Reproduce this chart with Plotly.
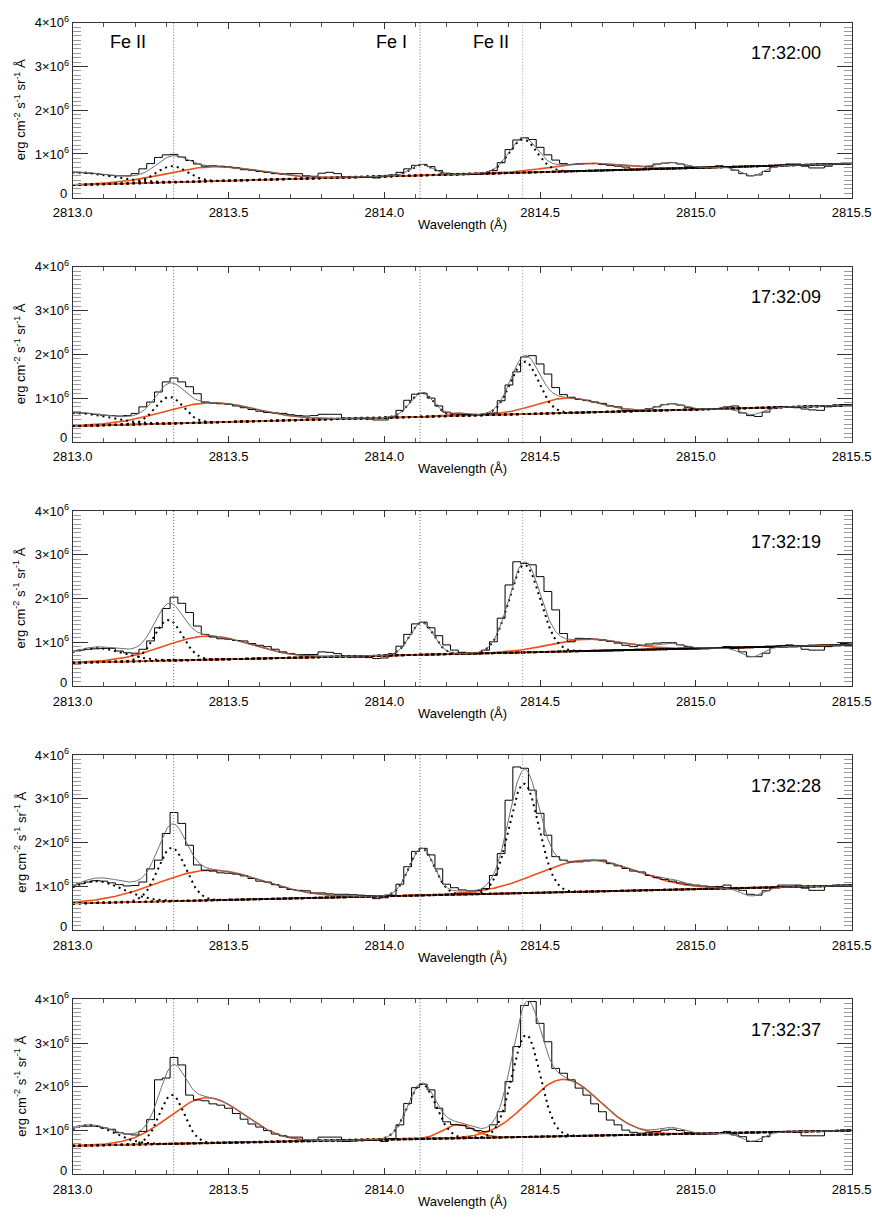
import numpy as np
import plotly.graph_objects as go

# ---------------- data (intensities in units of 1e6 erg cm^-2 s^-1 sr^-1 A^-1) ----------------
SCALE = 1e6
WL_START = 2813.0
WL_STEP = 0.025
TIMES = ["17:32:00", "17:32:09", "17:32:19", "17:32:28", "17:32:37"]

OBS_1 = [0.59, 0.57, 0.56, 0.55, 0.53, 0.51, 0.50, 0.50, 0.55, 0.66,
         0.78, 0.92, 0.98, 0.99, 0.93, 0.85, 0.77, 0.72, 0.73, 0.72,
         0.70, 0.68, 0.64, 0.63, 0.60, 0.58, 0.55, 0.54, 0.55, 0.55,
         0.50, 0.49, 0.56, 0.58, 0.55, 0.47, 0.46, 0.46, 0.47, 0.45,
         0.49, 0.52, 0.58, 0.66, 0.74, 0.76, 0.71, 0.62, 0.56, 0.53,
         0.53, 0.53, 0.54, 0.56, 0.62, 0.80, 1.10, 1.32, 1.37, 1.33,
         1.15, 0.98, 0.86, 0.78, 0.76, 0.77, 0.78, 0.78, 0.76, 0.74,
         0.72, 0.70, 0.64, 0.64, 0.72, 0.77, 0.79, 0.80, 0.77, 0.72,
         0.70, 0.70, 0.71, 0.73, 0.70, 0.63, 0.55, 0.50, 0.52, 0.60,
         0.70, 0.74, 0.77, 0.77, 0.72, 0.68, 0.68, 0.72, 0.77, 0.78, 0.79]
OBS_2 = [0.67, 0.66, 0.65, 0.63, 0.61, 0.60, 0.59, 0.60, 0.65, 0.80,
         0.91, 1.14, 1.37, 1.46, 1.37, 1.26, 1.10, 0.91, 0.89, 0.87,
         0.86, 0.82, 0.78, 0.74, 0.70, 0.67, 0.66, 0.65, 0.62, 0.60,
         0.59, 0.60, 0.63, 0.63, 0.63, 0.54, 0.53, 0.53, 0.52, 0.50,
         0.50, 0.57, 0.72, 0.95, 1.09, 1.11, 1.00, 0.82, 0.68, 0.64,
         0.63, 0.62, 0.62, 0.63, 0.66, 0.94, 1.30, 1.60, 1.94, 1.97,
         1.78, 1.55, 1.24, 1.08, 1.02, 0.97, 0.95, 0.91, 0.88, 0.82,
         0.80, 0.72, 0.71, 0.71, 0.76, 0.80, 0.85, 0.87, 0.84, 0.79,
         0.76, 0.75, 0.75, 0.76, 0.80, 0.82, 0.66, 0.60, 0.58, 0.68,
         0.76, 0.80, 0.79, 0.78, 0.75, 0.73, 0.72, 0.80, 0.84, 0.85, 0.85]
OBS_3 = [0.80, 0.82, 0.84, 0.85, 0.86, 0.86, 0.80, 0.76, 0.75, 0.84,
         1.03, 1.33, 1.77, 2.03, 1.89, 1.68, 1.37, 1.18, 1.12, 1.08,
         1.07, 1.04, 1.03, 0.97, 0.93, 0.90, 0.84, 0.78, 0.74, 0.72,
         0.72, 0.72, 0.78, 0.77, 0.74, 0.68, 0.66, 0.66, 0.65, 0.63,
         0.64, 0.74, 0.91, 1.18, 1.42, 1.46, 1.33, 1.15, 0.94, 0.82,
         0.77, 0.74, 0.74, 0.82, 1.01, 1.55, 2.31, 2.84, 2.80, 2.77,
         2.50, 2.16, 1.74, 1.20, 1.01, 1.09, 1.08, 1.07, 1.05, 1.02,
         0.98, 0.93, 0.90, 0.93, 0.96, 0.98, 0.99, 0.99, 0.94, 0.90,
         0.88, 0.86, 0.86, 0.87, 0.90, 0.86, 0.78, 0.67, 0.67, 0.75,
         0.88, 0.92, 0.94, 0.90, 0.84, 0.82, 0.82, 0.90, 0.94, 0.97, 0.98]
OBS_4 = [1.03, 1.06, 1.10, 1.13, 1.12, 1.08, 1.04, 1.01, 1.02, 1.10,
         1.40, 1.60, 2.21, 2.69, 2.44, 1.94, 1.49, 1.37, 1.35, 1.31,
         1.30, 1.28, 1.24, 1.18, 1.12, 1.10, 1.04, 0.98, 0.93, 0.91,
         0.90, 0.85, 0.85, 0.83, 0.82, 0.82, 0.81, 0.80, 0.79, 0.72,
         0.74, 0.80, 1.05, 1.45, 1.80, 1.87, 1.72, 1.40, 1.05, 0.97,
         0.92, 0.90, 0.91, 0.95, 1.25, 1.75, 2.97, 3.73, 3.70, 3.20,
         2.67, 2.17, 1.68, 1.60, 1.56, 1.56, 1.58, 1.60, 1.60, 1.52,
         1.47, 1.41, 1.35, 1.33, 1.25, 1.20, 1.16, 1.12, 1.08, 1.05,
         1.03, 1.01, 0.99, 1.00, 1.03, 0.95, 0.91, 0.82, 0.80, 0.90,
         0.98, 1.03, 1.03, 1.03, 0.96, 0.91, 0.91, 1.00, 1.03, 1.03, 1.03]
OBS_5 = [1.09, 1.10, 1.10, 1.10, 1.06, 1.03, 0.95, 0.92, 0.90, 0.98,
         1.25, 2.16, 2.20, 2.67, 2.50, 1.81, 1.70, 1.68, 1.61, 1.58,
         1.51, 1.39, 1.26, 1.15, 1.08, 1.00, 0.92, 0.88, 0.85, 0.85,
         0.78, 0.78, 0.85, 0.85, 0.85, 0.75, 0.76, 0.77, 0.78, 0.78,
         0.75, 0.82, 1.13, 1.62, 1.98, 2.06, 1.93, 1.51, 1.20, 1.14,
         1.12, 1.05, 1.00, 0.98, 1.13, 1.43, 2.12, 2.92, 3.86, 3.95,
         3.45, 3.03, 2.42, 2.31, 2.16, 1.97, 1.81, 1.61, 1.43, 1.24,
         1.13, 1.01, 0.96, 0.94, 0.96, 0.98, 1.01, 1.03, 1.00, 0.95,
         0.94, 0.92, 0.92, 0.93, 0.98, 0.90, 0.86, 0.75, 0.75, 0.86,
         0.98, 0.98, 0.98, 0.96, 0.88, 0.88, 0.88, 0.98, 1.00, 1.01, 1.01]
OBSERVED = [OBS_1, OBS_2, OBS_3, OBS_4, OBS_5]

# linear background: value at 2813.0 and slope per Angstrom
BG_AT_2813 = [0.29, 0.36, 0.53, 0.61, 0.65]
BG_SLOPE = [0.196, 0.19, 0.164, 0.164, 0.14]

# narrow (dotted) Gaussian components: centre, amplitude, sigma for each frame
LEFT_CEN = [2813.00, 2813.00, 2813.07, 2813.07, 2813.05]
LEFT_AMP = [0.29, 0.30, 0.33, 0.50, 0.47]
LEFT_SIG = [0.12, 0.11, 0.09, 0.09, 0.08]
FE2A_CEN = [2813.318, 2813.31, 2813.307, 2813.318, 2813.318]
FE2A_AMP = [0.37, 0.61, 0.93, 1.22, 1.12]
FE2A_SIG = [0.05, 0.045, 0.045, 0.045, 0.04]
FE1_CEN = [2814.12, 2814.12, 2814.12, 2814.12, 2814.12]
FE1_AMP = [0.25, 0.55, 0.74, 1.08, 1.26]
FE1_SIG = [0.035, 0.038, 0.038, 0.04, 0.045]
FE2B_CEN = [2814.445, 2814.45, 2814.45, 2814.448, 2814.455]
FE2B_AMP = [0.76, 1.20, 2.00, 2.50, 2.33]
FE2B_SIG = [0.045, 0.045, 0.05, 0.048, 0.045]

# broad (orange) Gaussian components
BROADA_CEN = [2813.45, 2813.44, 2813.43, 2813.44, 2813.43]
BROADA_AMP = [0.33, 0.45, 0.54, 0.69, 1.04]
BROADA_SIG = [0.15, 0.15, 0.14, 0.17, 0.12]
BROADB_CEN = [2814.65, 2814.585, 2814.65, 2814.65, 2814.575]
BROADB_AMP = [0.17, 0.34, 0.27, 0.72, 1.30]
BROADB_SIG = [0.12, 0.10, 0.12, 0.16, 0.115]
BROADC_CEN = [2814.24, 2814.24, 2814.24, 2814.24, 2814.238]
BROADC_AMP = [0.0, 0.06, 0.0, 0.04, 0.31]
BROADC_SIG = [0.03, 0.03, 0.03, 0.03, 0.05]

# extra weak features included only in the total fit
BUMP_CEN = [2814.92, 2814.92, 2814.92, 2814.92, 2814.92]
BUMP_AMP = [0.13, 0.15, 0.11, 0.08, 0.14]
BUMP_SIG = [0.04, 0.04, 0.04, 0.04, 0.04]
DIP_CEN = [2815.18, 2815.18, 2815.18, 2815.18, 2815.18]
DIP_AMP = [-0.22, -0.15, -0.22, -0.19, -0.20]
DIP_SIG = [0.035, 0.035, 0.035, 0.035, 0.035]

REF_LINES = [2813.324, 2814.115, 2814.444]
REF_LABELS = ["Fe II", "Fe I", "Fe II"]
REF_LABEL_X = [2813.177, 2814.024, 2814.341]
REF_LABEL_Y = 3.57
TIME_X = 2815.29
TIME_Y = 3.3

Y_TICKS = [0, 1, 2, 3, 4]
Y_TICKTEXT = ["", "1×10<sup>6</sup>", "2×10<sup>6</sup>", "3×10<sup>6</sup>", "4×10<sup>6</sup>"]
ZERO_LABEL = "0"
X_RANGE = [2813.0, 2815.5]

# ---------------- figure ----------------
W, H = 872, 1221
X0, X1 = 72.7, 851.7
TOP0, PITCH, PH = 22.7, 244.15, 175.0
FONT = "Liberation Sans, Arial, Helvetica, sans-serif"
ORANGE = "#EE5118"
DOT = "2px,4px"


def gauss(x, a, c, s):
    return a * np.exp(-0.5 * ((x - c) / s) ** 2)


xf = np.linspace(X_RANGE[0], X_RANGE[1], 801)
fig = go.Figure()
annotations = []
shapes = []

for k in range(5):
    xa = "x" if k == 0 else f"x{k+1}"
    ya = "y" if k == 0 else f"y{k+1}"
    bg = BG_AT_2813[k] + BG_SLOPE[k] * (xf - WL_START)
    left = gauss(xf, LEFT_AMP[k], LEFT_CEN[k], LEFT_SIG[k])
    fe2a = gauss(xf, FE2A_AMP[k], FE2A_CEN[k], FE2A_SIG[k])
    fe1 = gauss(xf, FE1_AMP[k], FE1_CEN[k], FE1_SIG[k])
    fe2b = gauss(xf, FE2B_AMP[k], FE2B_CEN[k], FE2B_SIG[k])
    ba = gauss(xf, BROADA_AMP[k], BROADA_CEN[k], BROADA_SIG[k])
    bb = gauss(xf, BROADB_AMP[k], BROADB_CEN[k], BROADB_SIG[k])
    bc = gauss(xf, BROADC_AMP[k], BROADC_CEN[k], BROADC_SIG[k])
    bump = gauss(xf, BUMP_AMP[k], BUMP_CEN[k], BUMP_SIG[k])
    dip = gauss(xf, DIP_AMP[k], DIP_CEN[k], DIP_SIG[k])
    total = bg + left + fe2a + fe1 + fe2b + ba + bb + bc + bump + dip

    # orange broad components (on background)
    for comp in (ba, bb, bc):
        fig.add_trace(go.Scatter(x=xf, y=(bg + comp) * SCALE, mode="lines",
                                 line=dict(color=ORANGE, width=1.6),
                                 xaxis=xa, yaxis=ya, showlegend=False, hoverinfo="skip"))
    # dotted narrow components and background
    for comp in (np.zeros_like(xf), left, fe2a, fe1, fe2b):
        fig.add_trace(go.Scatter(x=xf, y=(bg + comp) * SCALE, mode="lines",
                                 line=dict(color="black", width=2, dash=DOT),
                                 xaxis=xa, yaxis=ya, showlegend=False, hoverinfo="skip"))
    # observed spectrum (histogram style)
    obs = np.array(OBSERVED[k])
    wl = WL_START + WL_STEP * np.arange(len(obs))
    fig.add_trace(go.Scatter(x=wl, y=obs * SCALE, mode="lines", line_shape="hvh",
                             line=dict(color="black", width=1),
                             xaxis=xa, yaxis=ya, showlegend=False))
    # total fit
    fig.add_trace(go.Scatter(x=xf, y=total * SCALE, mode="lines",
                             line=dict(color="#707070", width=1),
                             xaxis=xa, yaxis=ya, showlegend=False, hoverinfo="skip"))

    top = TOP0 + PITCH * k
    ydom = [1 - (top + PH) / H, 1 - top / H]
    xdom = [X0 / W, X1 / W]
    axis_common = dict(showline=True, linecolor="#333333", linewidth=1, mirror="allticks",
                       showgrid=False, zeroline=False, ticks="inside", automargin=False,
                       tickfont=dict(family=FONT, size=13, color="black"))
    fig.update_layout({
        ("xaxis" if k == 0 else f"xaxis{k+1}"): dict(
            domain=xdom, anchor=ya, range=X_RANGE, tick0=2813.0, dtick=0.5,
            tickformat=".1f", ticklen=6, tickcolor="#333333", ticklabelstandoff=3,
            minor=dict(dtick=0.1, ticklen=4, ticks="inside", tickcolor="#555555"),
            **axis_common),
        ("yaxis" if k == 0 else f"yaxis{k+1}"): dict(
            domain=ydom, anchor=xa, range=[0, 4 * SCALE],
            tickvals=[v * SCALE for v in Y_TICKS], ticktext=Y_TICKTEXT,
            ticklen=15, tickcolor="#333333",
            minor=dict(dtick=0.1 * SCALE, ticklen=8, ticks="inside", tickcolor="#9a9a9a"),
            **axis_common),
    })

    # "0" label slightly raised, as in the original
    annotations.append(dict(x=(X0 - 4) / W, y=0, xref="paper", yref=ya, text=ZERO_LABEL,
                            xanchor="right", yanchor="middle", yshift=4, showarrow=False,
                            font=dict(family=FONT, size=13, color="black")))
    # reference line positions
    for j, lw in enumerate(REF_LINES):
        shapes.append(dict(type="line", xref=xa, yref=f"{ya} domain", x0=lw, x1=lw, y0=0, y1=1,
                           line=dict(color="#666666" if j < 2 else "#999999", width=1, dash="1px,2px")))
    # time stamp
    annotations.append(dict(x=TIME_X, y=TIME_Y * SCALE, xref=xa, yref=ya, text=TIMES[k],
                            showarrow=False, font=dict(family=FONT, size=18, color="black")))
    # axis titles
    annotations.append(dict(x=20 / W, y=1 - (top + PH / 2) / H, xref="paper", yref="paper",
                            text="erg cm<sup>-2</sup> s<sup>-1</sup> sr<sup>-1</sup> Å",
                            textangle=-90, showarrow=False, xanchor="center", yanchor="middle",
                            font=dict(family=FONT, size=13, color="black")))
    annotations.append(dict(x=(X0 + X1) / 2 / W, y=1 - (top + PH + 27) / H, xref="paper", yref="paper",
                            text="Wavelength (Å)", showarrow=False, xanchor="center", yanchor="middle",
                            font=dict(family=FONT, size=13, color="black")))
    if k == 0:
        for lx, lt in zip(REF_LABEL_X, REF_LABELS):
            annotations.append(dict(x=lx, y=REF_LABEL_Y * SCALE, xref=xa, yref=ya, text=lt,
                                    showarrow=False, font=dict(family=FONT, size=18, color="black")))

fig.update_layout(width=W, height=H, margin=dict(l=0, r=0, t=0, b=0),
                  paper_bgcolor="white", plot_bgcolor="white",
                  annotations=annotations, shapes=shapes, showlegend=False,
                  font=dict(family=FONT, color="black"))

fig.write_html("out.html", config={"displayModeBar": False},
               post_script="document.body.style.margin='0px';")
